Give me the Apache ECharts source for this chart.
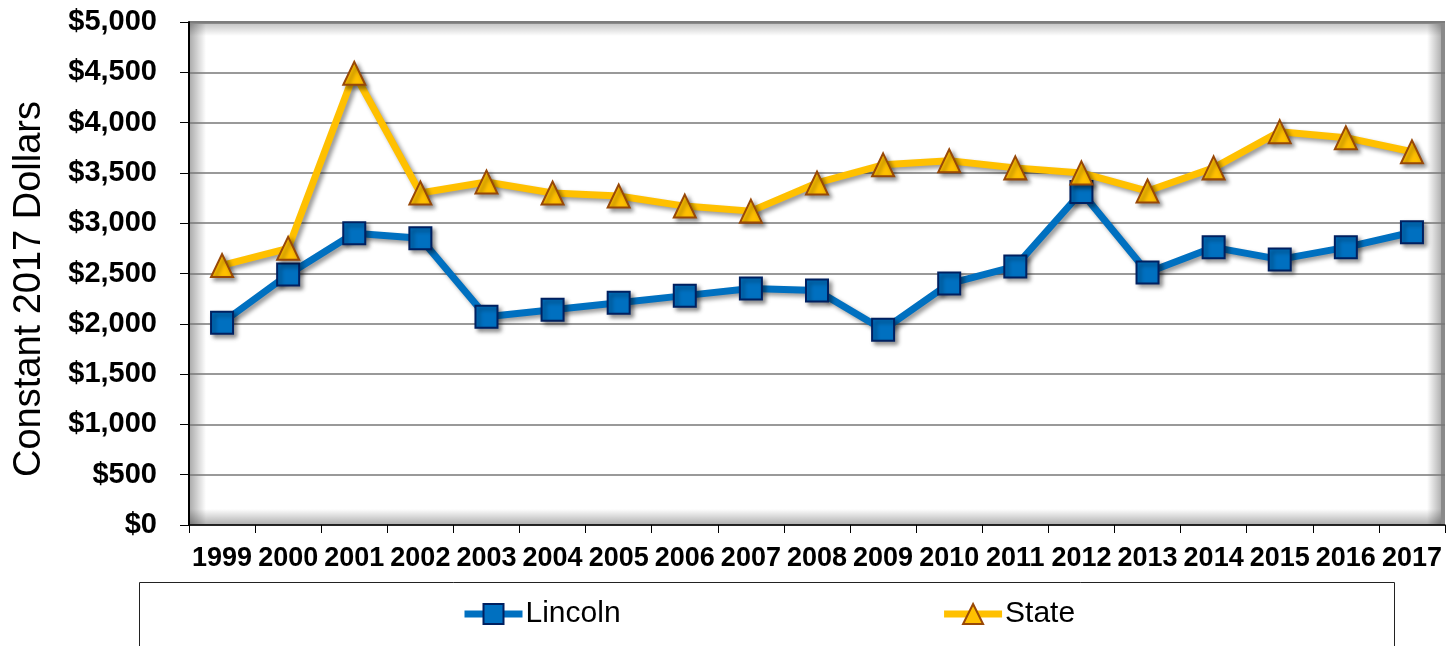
<!DOCTYPE html>
<html>
<head>
<meta charset="utf-8">
<script src="https://cdn.jsdelivr.net/npm/echarts@6/dist/echarts.min.js"></script>
<style>html,body{margin:0;padding:0;background:#fff}#c{width:1446px;height:646px}</style>
</head>
<body>
<div id="c"></div>
<script>
const years = ['1999','2000','2001','2002','2003','2004','2005','2006','2007','2008','2009','2010','2011','2012','2013','2014','2015','2016','2017'];
const lincoln = [2010, 2490, 2900, 2850, 2070, 2140, 2210, 2280, 2350, 2330, 1940, 2400, 2570, 3310, 2510, 2760, 2640, 2760, 2910];
const state = [2580, 2750, 4490, 3300, 3410, 3300, 3270, 3170, 3120, 3400, 3580, 3620, 3550, 3500, 3320, 3550, 3910, 3850, 3710];
const yTicks = [0, 500, 1000, 1500, 2000, 2500, 3000, 3500, 4000, 4500, 5000];
const yTitle = 'Constant 2017 Dollars';

const FONT = '"Liberation Sans", Arial, sans-serif';
const G = {left: 189, top: 22, right: 1445, bottom: 525};

const chart = echarts.init(document.getElementById('c'), null, {renderer: 'canvas'});
const shadow = {shadowColor: 'rgba(0,0,0,0.4)', shadowBlur: 4, shadowOffsetX: 3, shadowOffsetY: 3};

function grad(x1, y1, x2, y2, a) {
  return new echarts.graphic.LinearGradient(x1, y1, x2, y2, [
    {offset: 0, color: 'rgba(0,0,0,' + a + ')'},
    {offset: 1, color: 'rgba(0,0,0,0)'}
  ]);
}

chart.setOption({
  backgroundColor: '#fff',
  animation: false,
  grid: {left: G.left, top: G.top, width: G.right - G.left, height: G.bottom - G.top, containLabel: false},
  graphic: [
    {type: 'rect', z: -1, shape: {x: G.left + 1, y: G.top + 2, width: 16, height: G.bottom - G.top - 2}, style: {fill: grad(0, 0, 1, 0, 0.32)}},
    {type: 'rect', z: -1, shape: {x: G.left + 1, y: G.bottom - 16, width: G.right - G.left - 1, height: 16}, style: {fill: grad(0, 1, 0, 0, 0.32)}},
    {type: 'rect', z: -1, shape: {x: G.right - 18, y: G.top, width: 14, height: G.bottom - G.top}, style: {fill: grad(1, 0, 0, 0, 0.3)}},
    {type: 'rect', z: -1, shape: {x: G.left, y: G.top + 2, width: G.right - G.left, height: 12}, style: {fill: grad(0, 0, 0, 1, 0.22)}},
    {type: 'rect', z: -1, shape: {x: G.left, y: G.top - 1, width: G.right - G.left, height: 3}, style: {fill: '#8a8a8a'}},
    {type: 'rect', z: -1, shape: {x: G.right - 4, y: G.top - 1, width: 4, height: G.bottom - G.top + 1}, style: {fill: '#8a8a8a'}},
    {type: 'rect', z: -1, shape: {x: 139.5, y: 582.5, width: 1255, height: 100}, style: {fill: 'none', stroke: '#222', lineWidth: 1}},
    {type: 'text', x: 30, y: 289, rotation: Math.PI / 2,
      style: {text: yTitle, font: '38px ' + FONT, fill: '#000', textAlign: 'center', textVerticalAlign: 'middle'}}
  ],
  legend: {
    left: 461, top: 599, padding: 0, itemGap: 320, itemWidth: 58, itemHeight: 25,
    lineStyle: {width: 7},
    textStyle: {fontFamily: FONT, fontSize: 30, color: '#000', padding: [0, 0, 0, -2]},
    data: ['Lincoln', 'State']
  },
  xAxis: {
    type: 'category', data: years, boundaryGap: true,
    axisLine: {show: true, lineStyle: {color: '#000', width: 1.5}},
    axisTick: {show: true, length: 8, interval: 0, lineStyle: {color: '#000', width: 1}},
    axisLabel: {interval: 0, margin: 20, fontFamily: FONT, fontSize: 27, fontWeight: 'bold', color: '#000'},
    splitLine: {show: false}
  },
  yAxis: {
    type: 'value', min: 0, max: 5000, interval: 500,
    axisLine: {show: true, lineStyle: {color: '#000', width: 2}},
    axisTick: {show: true, length: 9, lineStyle: {color: '#000', width: 1}},
    axisLabel: {margin: 32, fontFamily: FONT, fontSize: 29, fontWeight: 'bold', color: '#000',
      formatter: v => yTicks.includes(v) ? '$' + v.toLocaleString('en-US') : ''},
    splitLine: {show: true, lineStyle: {color: '#777', width: 1.5}}
  },
  series: [
    {
      name: 'Lincoln', type: 'line', data: lincoln, z: 2,
      symbol: 'rect', symbolSize: 22, showAllSymbol: true,
      lineStyle: Object.assign({color: '#0070C0', width: 7}, shadow),
      itemStyle: Object.assign({color: '#0070C0', borderColor: '#002060', borderWidth: 2}, shadow)
    },
    {
      name: 'State', type: 'line', data: state, z: 3,
      symbol: 'triangle', symbolSize: [22, 23], showAllSymbol: true,
      lineStyle: Object.assign({color: '#FFC000', width: 7}, shadow),
      itemStyle: Object.assign({color: '#FFC000', borderColor: '#984807', borderWidth: 2}, shadow)
    }
  ]
});
</script>
</body>
</html>
